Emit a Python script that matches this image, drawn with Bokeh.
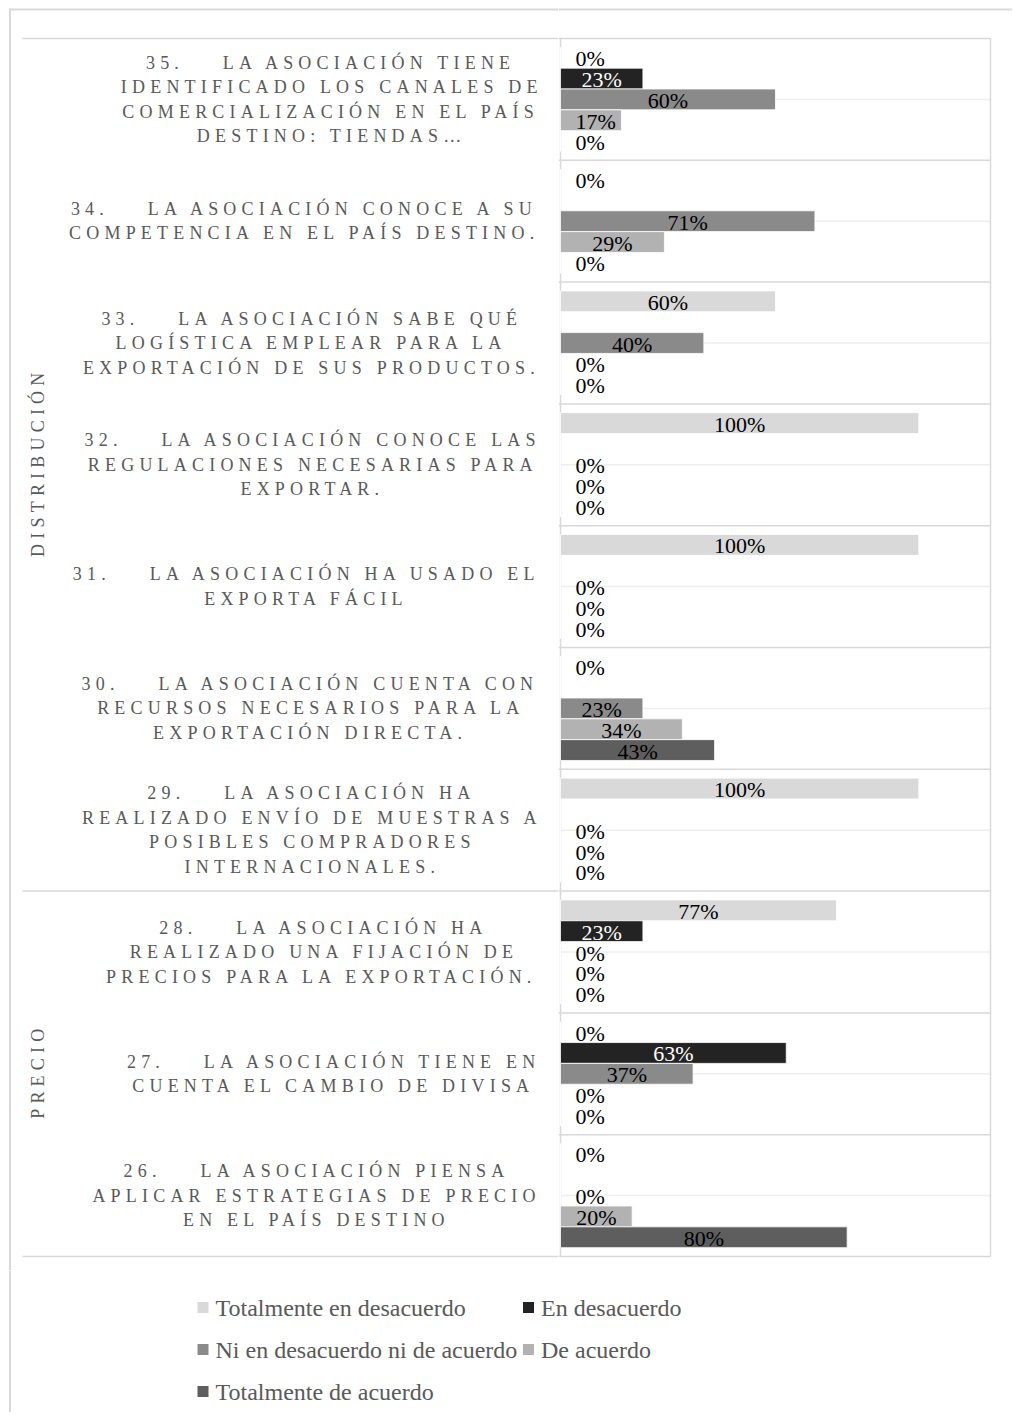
import math
import unicodedata
from bokeh.plotting import figure
from bokeh.models import Range1d, ColumnDataSource
from bokeh.layouts import row, column
from bokeh.embed import file_html
from bokeh.resources import INLINE
from bokeh.core.properties import value

# ---------------- data ----------------
GAP = "\u00a0\u00a0\u00a0 "
questions = [
    ["35." + GAP + "LA ASOCIACIÓN TIENE", "IDENTIFICADO LOS CANALES DE", "COMERCIALIZACIÓN EN EL PAÍS", "DESTINO: TIENDAS…"],
    ["34." + GAP + "LA ASOCIACIÓN CONOCE A SU", "COMPETENCIA EN EL PAÍS DESTINO."],
    ["33." + GAP + "LA ASOCIACIÓN SABE QUÉ", "LOGÍSTICA EMPLEAR PARA LA", "EXPORTACIÓN DE SUS PRODUCTOS."],
    ["32." + GAP + "LA ASOCIACIÓN CONOCE LAS", "REGULACIONES NECESARIAS PARA", "EXPORTAR."],
    ["31." + GAP + "LA ASOCIACIÓN HA USADO EL", "EXPORTA FÁCIL"],
    ["30." + GAP + "LA ASOCIACIÓN CUENTA CON", "RECURSOS NECESARIOS PARA LA", "EXPORTACIÓN DIRECTA."],
    ["29." + GAP + "LA ASOCIACIÓN HA", "REALIZADO ENVÍO DE MUESTRAS A", "POSIBLES COMPRADORES", "INTERNACIONALES."],
    ["28." + GAP + "LA ASOCIACIÓN HA", "REALIZADO UNA FIJACIÓN DE", "PRECIOS PARA LA EXPORTACIÓN."],
    ["27." + GAP + "LA ASOCIACIÓN TIENE EN", "CUENTA EL CAMBIO DE DIVISA"],
    ["26." + GAP + "LA ASOCIACIÓN PIENSA", "APLICAR ESTRATEGIAS DE PRECIO", "EN EL PAÍS DESTINO"],
]
groups = ["DISTRIBUCIÓN", "PRECIO"]
group_sizes = [7, 3]

series = ["Totalmente en desacuerdo", "En desacuerdo",
          "Ni en desacuerdo ni de acuerdo", "De acuerdo", "Totalmente de acuerdo"]
totalmente_en_desacuerdo = [0.00, 0.00, 0.60, 1.00, 1.00, 0.00, 1.00, 0.77, 0.00, 0.00]
en_desacuerdo            = [0.23, 0.00, 0.00, 0.00, 0.00, 0.00, 0.00, 0.23, 0.63, 0.00]
ni_ni                    = [0.60, 0.71, 0.40, 0.00, 0.00, 0.23, 0.00, 0.00, 0.37, 0.00]
de_acuerdo               = [0.17, 0.29, 0.00, 0.00, 0.00, 0.34, 0.00, 0.00, 0.00, 0.20]
totalmente_de_acuerdo    = [0.00, 0.00, 0.00, 0.00, 0.00, 0.43, 0.00, 0.00, 0.00, 0.80]
values = [totalmente_en_desacuerdo, en_desacuerdo, ni_ni, de_acuerdo, totalmente_de_acuerdo]

colors = ["#d9d9d9", "#232323", "#8a8a8a", "#b2b2b2", "#5e5e5e"]
label_colors = ["#000000", "#ffffff", "#000000", "#000000", "#000000"]

# ---------------- layout constants (page pixels) ----------------
XMAX = 1.2
N = len(questions)
TOP, BOT = 38, 1256           # plot area page y
PL, PR = 560, 990             # plot area page x
U = (BOT - TOP) / N           # px per category
XU = (PR - PL) / XMAX         # px per unit value
PAGE_TOP, SPLIT_Y, PAGE_BOT = 0, 1270, 1412
LEFT_X0, SPLIT_X, RIGHT_X1 = 0, 558, 1012
BAR_H = 0.171
GRID = "#d9d9d9"
TXT = "#595959"
SERIF = value("Liberation Serif")
CAT_FS, LS = 18, 5.2
PCT_FS = 22
LEG_FS = 24


def cat_y(page_y):
    return (page_y - TOP) / U


def y_range_main():
    return Range1d(cat_y(SPLIT_Y), cat_y(PAGE_TOP))


def base_fig(w, h, xr, yr, **kw):
    p = figure(width=w, height=h, x_range=xr, y_range=yr, output_backend="svg",
               toolbar_location=None, x_axis_location=None, y_axis_location=None,
               min_border=0, outline_line_color=None, background_fill_color="white",
               border_fill_color="white", **kw)
    p.grid.visible = False
    return p


# Times / Liberation Serif advance widths (1/1000 em)
WID = {' ': 250, '\u00a0': 250, '.': 250, ':': 278, ',': 250, '…': 1000,
       'A': 722, 'B': 667, 'C': 667, 'D': 722, 'E': 611, 'F': 556, 'G': 722, 'H': 722,
       'I': 333, 'J': 389, 'K': 722, 'L': 611, 'M': 889, 'N': 722, 'O': 722, 'P': 556,
       'Q': 722, 'R': 667, 'S': 556, 'T': 611, 'U': 722, 'V': 722, 'W': 944, 'X': 722,
       'Y': 722, 'Z': 611}
for d in "0123456789":
    WID[d] = 500


def text_w(s, fs, ls):
    tot = 0
    for c in s:
        b = unicodedata.normalize("NFD", c)[0]
        tot += WID.get(b, 600)
    return tot * fs / 1000 + (len(s) - 1) * ls


# ---------------- left panel: category labels ----------------
L = base_fig(SPLIT_X - LEFT_X0, SPLIT_Y - PAGE_TOP, Range1d(LEFT_X0, SPLIT_X), y_range_main(),
             styles={"letter-spacing": f"{LS}px"})

RIGHT_EDGE = 537
LINE_H = 24.5
lx, ly, lt, lyo = [], [], [], []
for k, lines in enumerate(questions):
    widths = [text_w(s, CAT_FS, LS) for s in lines]
    W = max(widths)
    cx = RIGHT_EDGE - W / 2
    n = len(lines)
    for i, (s, w) in enumerate(zip(lines, widths)):
        lx.append(cx - w / 2)
        ly.append(k + 0.5)
        lt.append(s)
        lyo.append((i - (n - 1) / 2) * LINE_H)
L.text(x="x", y="y", text="t", y_offset="yo",
       source=ColumnDataSource(dict(x=lx, y=ly, t=lt, yo=lyo)),
       text_font=SERIF, text_font_size=f"{CAT_FS}px", text_color=TXT,
       text_align="left", text_baseline="middle")

gx, gy, gt, gyo = [], [], [], []
start = 0
for g, n in zip(groups, group_sizes):
    gx.append(37)
    gy.append(start + n / 2)
    gt.append(g)
    gyo.append(text_w(g, CAT_FS, LS) / 2)
    start += n
L.text(x="x", y="y", text="t", y_offset="yo",
       source=ColumnDataSource(dict(x=gx, y=gy, t=gt, yo=gyo)),
       angle=math.pi / 2, text_font=SERIF, text_font_size=f"{CAT_FS}px", text_color=TXT,
       text_align="left", text_baseline="middle")

# lines in left panel
bounds = [0, group_sizes[0], N]
L.segment(x0=[22] * 3, y0=bounds, x1=[SPLIT_X] * 3, y1=bounds, line_color=GRID, line_width=1.5)
# outer chart border
L.segment(x0=[9.5, 8.5], y0=[cat_y(8), cat_y(9)], x1=[9.5, SPLIT_X],
          y1=[cat_y(SPLIT_Y), cat_y(9)], line_color=GRID, line_width=2)

# ---------------- right panel: bars ----------------
R = base_fig(RIGHT_X1 - SPLIT_X, SPLIT_Y - PAGE_TOP,
             Range1d((SPLIT_X - PL) / XU, (RIGHT_X1 - PL) / XU), y_range_main())

# mid-category faint gridlines
mids = [k + 0.5 for k in range(N)]
R.segment(x0=[0] * N, y0=mids, x1=[XMAX] * N, y1=mids, line_color="#efefef", line_width=1.5)
# category separators + plot box
seps = list(range(N + 1))
R.segment(x0=[(SPLIT_X - PL) / XU] * (N + 1), y0=seps, x1=[XMAX] * (N + 1), y1=seps,
          line_color=GRID, line_width=1.5)
R.segment(x0=[0, XMAX], y0=[0, 0], x1=[0, XMAX], y1=[N, N], line_color=GRID, line_width=1.5)
R.segment(x0=[(SPLIT_X - PL) / XU], y0=[cat_y(9)], x1=[(RIGHT_X1 - PL) / XU], y1=[cat_y(9)],
          line_color=GRID, line_width=2)

for j, (name, vals, col, lcol) in enumerate(zip(series, values, colors, label_colors)):
    ys = [k + 0.5 + (j - 2) * BAR_H for k in range(N)]
    R.hbar(y=ys, left=0, right=vals, height=BAR_H, fill_color=col,
           line_color="white", line_width=0.8)
    texts = [f"{round(v * 100)}%" for v in vals]
    xo = []
    for v, t in zip(vals, texts):
        w = PCT_FS * (0.5 * (len(t) - 1) + 0.833)
        xo.append(max(0.0, 15 + w / 2 - v * XU / 2))
    R.text(x="x", y="y", text="t", x_offset="xo",
           source=ColumnDataSource(dict(x=[v / 2 for v in vals], y=ys, t=texts, xo=xo)),
           y_offset=1, text_font=SERIF, text_font_size=f"{PCT_FS}px", text_color=lcol,
           text_align="center", text_baseline="middle")

# ---------------- bottom: legend ----------------
B = base_fig(RIGHT_X1 - LEFT_X0, PAGE_BOT - SPLIT_Y, Range1d(LEFT_X0, RIGHT_X1),
             Range1d(PAGE_BOT, SPLIT_Y))
B.segment(x0=[9.5], y0=[SPLIT_Y], x1=[9.5], y1=[PAGE_BOT], line_color=GRID, line_width=2)
leg_cols = [202.5, 528]
leg_rows = [1307, 1349, 1391]
sx, sy, tx = [], [], []
for i in range(len(series)):
    r_, c_ = divmod(i, 2)
    sx.append(leg_cols[c_]); sy.append(leg_rows[r_]); tx.append(leg_cols[c_] + 12.5)
B.scatter(x=sx, y=sy, marker="square", size=11, fill_color=colors, line_color=None)
B.text(x=tx, y=sy, text=series, text_font=SERIF, text_font_size=f"{LEG_FS}px", text_color=TXT,
       text_align="left", text_baseline="middle")

layout = column(row(L, R), B)
open("out.html", "w").write(file_html(layout, INLINE))
